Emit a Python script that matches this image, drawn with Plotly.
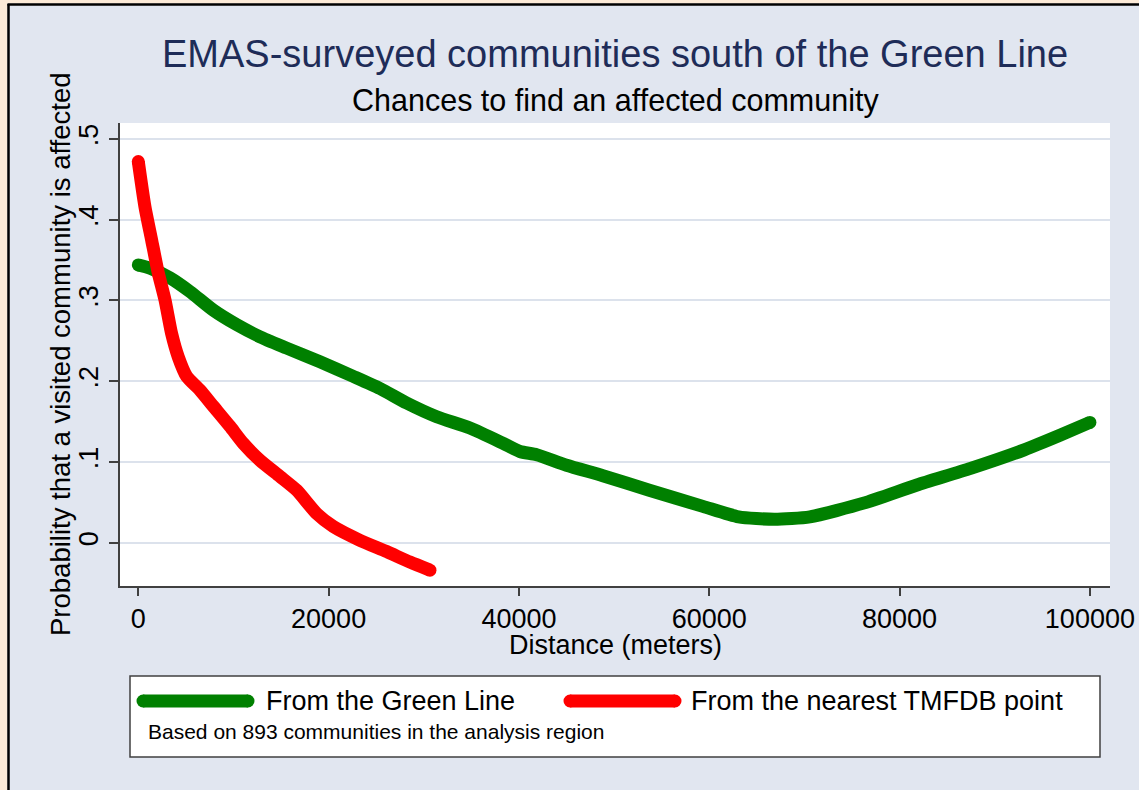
import plotly.graph_objects as go

# ---------------- data ----------------
green_x = [0, 1230, 3330, 5430, 7880, 10340, 12790, 15590, 19090, 22590, 25400,
           28200, 31350, 34850, 38350, 40100, 41860, 45000, 48820, 53700, 59330,
           63080, 66830, 70580, 76210, 81830, 87460, 93100, 96850, 100000]
green_y = [0.344, 0.340, 0.328, 0.311, 0.288, 0.270, 0.255, 0.241, 0.224, 0.206, 0.191,
           0.173, 0.156, 0.142, 0.123, 0.113, 0.109, 0.096, 0.083, 0.065, 0.045,
           0.032, 0.029, 0.032, 0.049, 0.0715, 0.092, 0.115, 0.133, 0.149]

red_x = [0, 700, 1400, 2100, 2800, 3500, 4200, 5080, 6480, 7880, 9640, 11030,
         12790, 14890, 16640, 18750, 20490, 23290, 26100, 28550, 30650]
red_y = [0.472, 0.416, 0.375, 0.334, 0.301, 0.259, 0.230, 0.206, 0.189, 0.169, 0.144,
         0.123, 0.102, 0.082, 0.065, 0.036, 0.020, 0.003, -0.011, -0.024, -0.034]

series_names = ["From the Green Line", "From the nearest TMFDB point"]
x_ticks = [0, 20000, 40000, 60000, 80000, 100000]
x_ticktext = ["0", "20000", "40000", "60000", "80000", "100000"]
y_ticks = [0, 0.1, 0.2, 0.3, 0.4, 0.5]
y_ticktext = ["0", ".1", ".2", ".3", ".4", ".5"]

title = "EMAS-surveyed communities south of the Green Line"
subtitle = "Chances to find an affected community"
x_title = "Distance (meters)"
y_title = "Probability that a visited community is affected"
note = "Based on 893 communities in the analysis region"

# ---------------- layout geometry ----------------
W, H = 1139, 790
L, R, T, B = 120, 1110, 123, 586
PW, PH = R - L, B - T


def px(x):
    return (x - L) / PW


def py(y):
    return (B - y) / PH


FONT = "Arial, Liberation Sans, sans-serif"
BG = "#E1E6F0"
PEACH = "#FCEAD7"
GRID = "#DCE2EC"
NAVY = "#1E2C58"
GREEN = "#008000"
RED = "#FF0000"
LW = 13


def ends(n):
    return [LW] + [0] * (n - 2) + [LW]


fig = go.Figure()
fig.add_trace(go.Scatter(x=green_x, y=green_y, mode="lines+markers", name=series_names[0],
                         line=dict(color=GREEN, width=LW, shape="spline", smoothing=0.6),
                         marker=dict(color=GREEN, size=ends(len(green_x)), opacity=1,
                                     line=dict(width=0)),
                         showlegend=False))
fig.add_trace(go.Scatter(x=red_x, y=red_y, mode="lines+markers", name=series_names[1],
                         line=dict(color=RED, width=LW, shape="spline", smoothing=0.6),
                         marker=dict(color=RED, size=ends(len(red_x)), opacity=1,
                                     line=dict(width=0)),
                         showlegend=False))

x0 = -(138.3 - L) / 951.7 * 100000
x1 = 100000 + (R - 1089.9) / 951.7 * 100000
y_per = (542.7 - 139.0) / 0.5
y0 = -(B - 542.7) / y_per
y1 = 0.5 + (139.0 - T) / y_per

fig.update_xaxes(range=[x0, x1], tickvals=x_ticks, ticktext=x_ticktext, ticks="outside",
                 ticklen=8, tickwidth=1.5, automargin=False,
                 tickcolor="#404040", showline=True, linecolor="#404040", linewidth=1.5,
                 showgrid=False, zeroline=False,
                 tickfont=dict(family=FONT, size=27, color="black"))
fig.update_yaxes(range=[y0, y1], tickvals=y_ticks, ticktext=y_ticktext, tickangle=-90,
                 ticks="outside", ticklen=9, tickwidth=1.5, tickcolor="#404040", automargin=False,
                 showline=True, linecolor="#404040", linewidth=1.5,
                 showgrid=True, gridcolor=GRID, gridwidth=1.5, zeroline=False,
                 tickfont=dict(family=FONT, size=27, color="black"))

shapes = []
# outer frame
shapes.append(dict(type="rect", xref="paper", yref="paper", x0=px(0), x1=px(7.5), y0=py(H), y1=py(0),
                   fillcolor=PEACH, line=dict(width=0), layer="above"))
shapes.append(dict(type="rect", xref="paper", yref="paper", x0=px(0), x1=px(W), y0=py(3.5), y1=py(0),
                   fillcolor=PEACH, line=dict(width=0), layer="above"))
shapes.append(dict(type="line", xref="paper", yref="paper", x0=px(8.5), x1=px(8.5), y0=py(H), y1=py(4),
                   line=dict(color="black", width=2.5), layer="above"))
shapes.append(dict(type="line", xref="paper", yref="paper", x0=px(7.5), x1=px(W), y0=py(4.5), y1=py(4.5),
                   line=dict(color="black", width=2.5), layer="above"))
# legend box
shapes.append(dict(type="rect", xref="paper", yref="paper", x0=px(130), x1=px(1100), y0=py(757), y1=py(676),
                   fillcolor="white", line=dict(color="#404040", width=1.5), layer="above"))
# legend keys (rounded thick bars)
for (a, b), col in [((143, 248), GREEN), ((570, 675), RED)]:
    yc = 701
    shapes.append(dict(type="rect", xref="paper", yref="paper", x0=px(a), x1=px(b),
                       y0=py(yc + LW / 2), y1=py(yc - LW / 2), fillcolor=col, line=dict(width=0), layer="above"))
    for c in (a, b):
        shapes.append(dict(type="circle", xref="paper", yref="paper", x0=px(c - LW / 2), x1=px(c + LW / 2),
                           y0=py(yc + LW / 2), y1=py(yc - LW / 2), fillcolor=col, line=dict(width=0),
                           layer="above"))

annotations = [
    dict(text=title, x=px(615), y=py(54), font=dict(family=FONT, size=38, color=NAVY)),
    dict(text=subtitle, x=px(615), y=py(101), font=dict(family=FONT, size=30.5, color="black")),
    dict(text=x_title, x=px(615), y=py(645), font=dict(family=FONT, size=27, color="black")),
    dict(text=y_title, x=px(60), y=py(354), textangle=-90, font=dict(family=FONT, size=27.5, color="black")),
    dict(text=series_names[0], x=px(264), y=py(701), xanchor="left",
         font=dict(family=FONT, size=27, color="black")),
    dict(text=series_names[1], x=px(689), y=py(701), xanchor="left",
         font=dict(family=FONT, size=27, color="black")),
    dict(text=note, x=px(146), y=py(731), xanchor="left",
         font=dict(family=FONT, size=21, color="black")),
]
for a in annotations:
    a.update(xref="paper", yref="paper", showarrow=False)
    a.setdefault("xanchor", "center")
    a.setdefault("yanchor", "middle")

fig.update_layout(width=W, height=H, margin=dict(l=L, r=W - R, t=T, b=H - B, pad=0, autoexpand=False),
                  paper_bgcolor=BG, plot_bgcolor="white", showlegend=False,
                  shapes=shapes, annotations=annotations)

fig.write_html("out.html")
